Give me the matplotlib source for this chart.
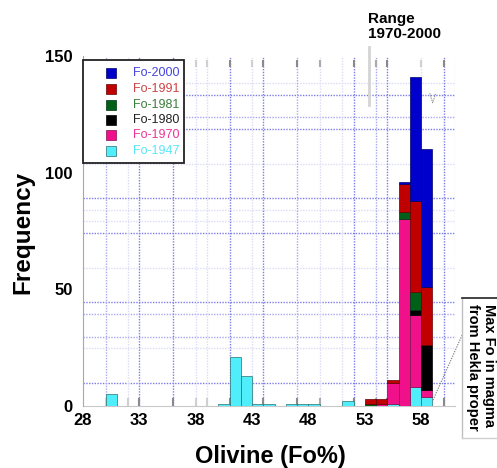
import matplotlib
matplotlib.use("Agg")
import matplotlib.pyplot as plt
import numpy as np
from matplotlib.lines import Line2D
from matplotlib.patches import Rectangle

plt.rcParams['font.family'] = ['Liberation Sans', 'DejaVu Sans']

# ---------------- data ----------------
bins = [30, 40, 41, 42, 43, 44, 46, 47, 48, 51, 53, 54, 55, 56, 57, 58]
fo1947 = [5, 1, 21, 13, 1, 1, 1, 1, 1, 2, 0, 0, 1, 0, 8, 4]
fo1970 = [0, 0, 0, 0, 0, 0, 0, 0, 0, 0, 0, 1, 9, 80, 31, 3]
fo1980 = [0, 0, 0, 0, 0, 0, 0, 0, 0, 0, 0, 0, 0, 0, 2, 19]
fo1981 = [0, 0, 0, 0, 0, 0, 0, 0, 0, 0, 1, 0, 0, 3, 8, 0]
fo1991 = [0, 0, 0, 0, 0, 0, 0, 0, 0, 0, 2, 2, 1, 12, 39, 25]
fo2000 = [0, 0, 0, 0, 0, 0, 0, 0, 0, 0, 0, 0, 0, 1, 53, 59]

series_labels = ['Fo-1947', 'Fo-1970', 'Fo-1980', 'Fo-1981', 'Fo-1991', 'Fo-2000']
xticks = [28, 33, 38, 43, 48, 53, 58]
yticks = [0, 50, 100, 150]

# ---------------- styles ----------------
face = ['#50eefa', '#f0108a', '#000000', '#006018', '#c00000', '#0000cc']
edge = ['#2a7070', '#801050', '#000000', '#003010', '#600000', '#000060']
legcol = ['#5ae6f8', '#ee3399', '#222222', '#3a7f3a', '#cc4444', '#4444dd']

fig = plt.figure(figsize=(4.97, 4.68), dpi=100)
W, H = 497, 468
ax = fig.add_axes([83 / W, 1 - 406 / H, 372 / W, 350 / H])
ax.set_xlim(28, 61)
ax.set_ylim(0, 150)

# grid (overlaid dotted grids)
strong, medium, light = '#7c7ce8', '#a8a8f0', '#dcdcf6'
hgrid = [(9.7, strong), (24.7, light), (29.7, medium), (39.4, medium), (44.4, strong),
         (59.3, light), (74.0, strong), (79.3, light), (84.0, light), (89.0, strong),
         (103.9, light), (118.7, strong), (123.7, medium), (133.3, strong), (138.6, light)]
vgrid = [(30, medium), (32, light), (33, strong), (36, strong), (38, light), (39, light),
         (41, strong), (43, light), (44, strong), (47, medium), (49, light), (51, light),
         (52, strong), (54, medium), (55, strong), (58, light), (60, strong), (61, light)]
for y, c in hgrid:
    ax.axhline(y, color=c, lw=1.0, ls=(0, (1, 1)), zorder=1)
for x, c in vgrid:
    ax.axvline(x, color=c, lw=1.0, ls=(0, (1, 1)), zorder=1)

# small tick marks top and bottom
dark_t, mid_t, light_t = '#8a8a8a', '#aaaaaa', '#d0d0d0'
tmarks = [(30, light_t), (32, light_t), (33, dark_t), (36, dark_t), (38, light_t), (39, light_t),
          (41, dark_t), (43, light_t), (44, dark_t), (47, dark_t), (49, mid_t), (52, dark_t),
          (54, mid_t), (55, dark_t), (58, light_t), (60, dark_t)]
for x, c in tmarks:
    ax.plot([x, x], [145.2, 148.3], color=c, lw=1.5, zorder=2, solid_capstyle='butt')
    ax.plot([x, x], [0, 3.3], color=c, lw=1.5, zorder=2, solid_capstyle='butt')

# stacked bars
stack = [fo1947, fo1970, fo1980, fo1981, fo1991, fo2000]
xb = np.array(bins, dtype=float)
bottom = np.zeros(len(bins))
for vals, fc, ec, lab in zip(stack, face, edge, series_labels):
    v = np.array(vals, dtype=float)
    m = v > 0
    ax.bar(xb[m], v[m], width=1.0, align='edge', bottom=bottom[m], color=fc,
           edgecolor=ec, linewidth=0.5, zorder=3, label=lab)
    bottom += v

# spines
for s in ['top', 'right']:
    ax.spines[s].set_visible(False)
ax.spines['left'].set_color('#a8a8a8')
ax.spines['bottom'].set_color('#c8c8c8')
ax.spines['left'].set_zorder(4)

ax.set_xticks(xticks)
ax.set_yticks(yticks)
ax.tick_params(axis='x', length=0, pad=5, labelsize=12)
ax.tick_params(axis='y', length=0, pad=7.5, labelsize=12)
for t in ax.get_xticklabels() + ax.get_yticklabels():
    t.set_fontweight('bold')

# legend (manual box)
lx0, lx1 = 0.0, (184 - 83) / 372
ly0, ly1 = (406 - 163) / 350, (406 - 60) / 350
ax.add_patch(Rectangle((lx0, ly0), lx1 - lx0, ly1 - ly0, transform=ax.transAxes,
                       facecolor='white', edgecolor='#222222', lw=1.3, zorder=6,
                       clip_on=False))
rows_px = [73, 89, 105, 120, 135, 151]
for i, k in enumerate(range(5, -1, -1)):
    yy = (406 - rows_px[i]) / 350
    ax.plot([(111 - 83) / 372], [yy], marker='s', ms=6.5, color=face[k],
            mec=edge[k], mew=0.5, transform=ax.transAxes, zorder=7, clip_on=False)
    ax.text((133 - 83) / 372, yy, series_labels[k], transform=ax.transAxes,
            color=legcol[k], fontsize=9, ha='left', va='center', zorder=7)

# annotations
ax.plot([53.35, 53.35], [129, 154], color='#d4d4d4', lw=2, clip_on=False, zorder=2)
fig.text(368 / W, 1 - 12 / H, 'Range\n1970-2000', ha='left', va='top',
         fontsize=11, fontweight='bold', linespacing=1.05)
ax.plot([58.76, 59.02, 59.29], [134, 130, 134], color='#888888', lw=0.8,
        ls=(0, (1, 1)), zorder=5)
ax.plot([61.63, 58.99], [30.4, 1.9], color='#888888', lw=0.9, ls=(0, (1, 1)),
        clip_on=False, zorder=5)

fig.add_artist(Line2D([462 / W, 462 / W], [1 - 298 / H, 1 - 438 / H], color='#c0c0c0', lw=1))
fig.add_artist(Line2D([462 / W, 1.0], [1 - 298 / H, 1 - 298 / H], color='#222222', lw=1.2))
fig.add_artist(Line2D([462 / W, 1.0], [1 - 438 / H, 1 - 438 / H], color='#d0d0d0', lw=1))
fig.text(481 / W, 1 - 304 / H, 'Max Fo in magma\nfrom Hekla proper', rotation=270,
         ha='center', va='top', fontsize=10.5, fontweight='bold', linespacing=1.15,
         multialignment='left')

fig.text(23 / W, 1 - 232 / H, 'Frequency', rotation=90, ha='center', va='center',
         fontsize=17.5, fontweight='bold')
fig.text(270 / W, 1 - 463 / H, 'Olivine (Fo%)', ha='center', va='baseline',
         fontsize=17, fontweight='bold')

fig.savefig('out.png', dpi=100)
